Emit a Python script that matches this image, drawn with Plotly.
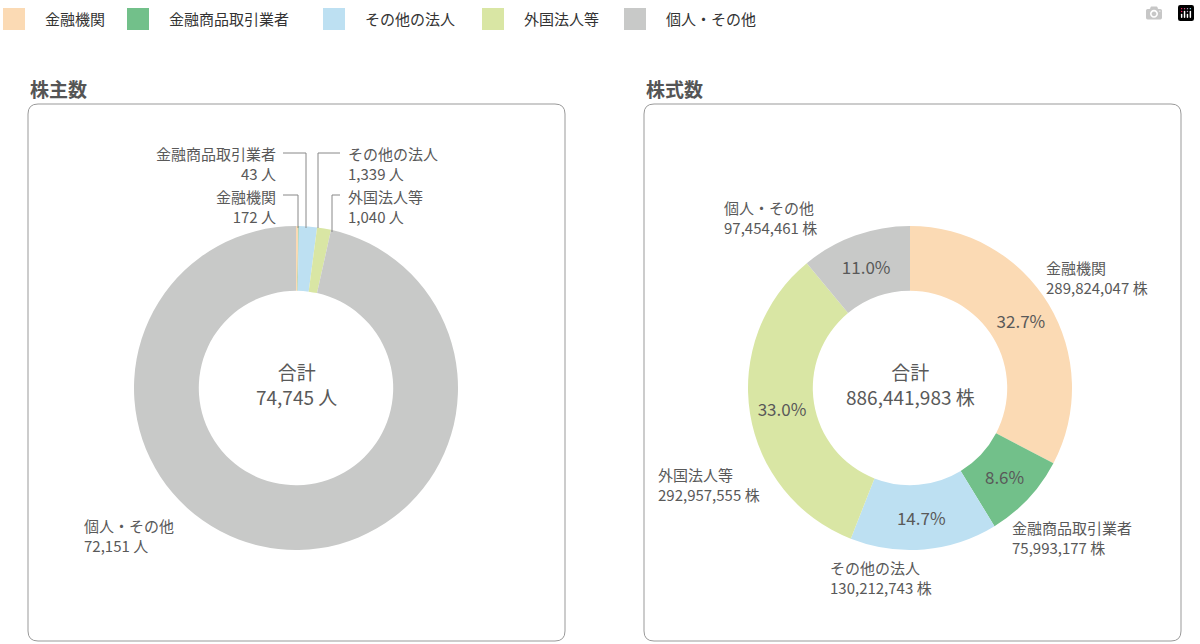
import plotly.graph_objects as go

labels = ["金融機関", "金融商品取引業者", "その他の法人", "外国法人等", "個人・その他"]
holders = [172, 43, 1339, 1040, 72151]
shares = [289824047, 75993177, 130212743, 292957555, 97454461]
colors = ["#FBDAB4", "#72C08A", "#BDE0F2", "#D9E6A4", "#C8C9C8"]
TXT = "#595959"
FONT = "Noto Sans CJK JP"
W, H = 1200, 644

def px(x): return x / W
def py(y): return 1 - y / H

fig = go.Figure()
fig.add_trace(go.Pie(labels=labels, values=holders, marker=dict(colors=colors),
                     hole=0.6, sort=False, direction="clockwise", rotation=0,
                     textinfo="none", hoverinfo="label+value", showlegend=False,
                     domain=dict(x=[px(134), px(458)], y=[py(550), py(226)])))
fig.add_trace(go.Pie(labels=labels, values=shares, marker=dict(colors=colors),
                     hole=0.6, sort=False, direction="clockwise", rotation=0,
                     texttemplate="%{percent:.1%}", textposition="inside",
                     insidetextorientation="horizontal",
                     textfont=dict(size=17, color=TXT, family=FONT),
                     showlegend=False,
                     domain=dict(x=[px(748), px(1072)], y=[py(550), py(226)])))

def rr(x0, y0, x1, y1, r=10):
    X0, X1 = px(x0), px(x1); Y0, Y1 = py(y1), py(y0)
    rx, ry = r / W, r / H
    return (f"M {X0+rx},{Y0} L {X1-rx},{Y0} Q {X1},{Y0} {X1},{Y0+ry} "
            f"L {X1},{Y1-ry} Q {X1},{Y1} {X1-rx},{Y1} L {X0+rx},{Y1} "
            f"Q {X0},{Y1} {X0},{Y1-ry} L {X0},{Y0+ry} Q {X0},{Y0} {X0+rx},{Y0} Z")

shapes = [dict(type="path", xref="paper", yref="paper", path=rr(28, 104, 565, 641),
               line=dict(color="#999999", width=1)),
          dict(type="path", xref="paper", yref="paper", path=rr(644, 104, 1181, 641),
               line=dict(color="#999999", width=1))]
lines = [[(283, 153), (306, 153), (306, 228)],
         [(283, 195), (298, 195), (298, 228)],
         [(340, 153), (318, 153), (318, 228)],
         [(340, 195), (332, 195), (332, 232)]]
for pts in lines:
    for (a, b), (c, d) in zip(pts[:-1], pts[1:]):
        shapes.append(dict(type="line", xref="paper", yref="paper",
                           x0=px(a), y0=py(b), x1=px(c), y1=py(d),
                           line=dict(color="#888888", width=1)))

ann = []
def t(x, y, text, anchor="left", size=15, color=TXT):
    ann.append(dict(x=px(x), y=py(y), xref="paper", yref="paper", text=text,
                    showarrow=False, xanchor=anchor, yanchor="middle", align=anchor,
                    font=dict(size=size, color=color, family=FONT)))

# manual legend
leg_x = [3, 127, 323, 482, 624]
for lx, lab, col in zip(leg_x, labels, colors):
    shapes.append(dict(type="rect", xref="paper", yref="paper",
                       x0=px(lx), x1=px(lx + 22), y0=py(30), y1=py(8),
                       fillcolor=col, line=dict(width=0)))
    t(lx + 40, 19, lab, color="#333333")

t(28, 88, "<b>株主数</b>", size=19, color="#555555")
t(644, 88, "<b>株式数</b>", size=19, color="#555555")
t(296, 384, "合計<br>74,745 人", anchor="center", size=19)
t(910, 384, "合計<br>886,441,983 株", anchor="center", size=19)
t(278, 164, "金融商品取引業者<br>43 人", anchor="right")
t(278, 206, "金融機関<br>172 人", anchor="right")
t(346, 164, "その他の法人<br>1,339 人")
t(346, 206, "外国法人等<br>1,040 人")
t(82, 535, "個人・その他<br>72,151 人")
t(722, 218, "個人・その他<br>97,454,461 株")
t(1044, 277, "金融機関<br>289,824,047 株")
t(1010, 537, "金融商品取引業者<br>75,993,177 株")
t(828, 577, "その他の法人<br>130,212,743 株")
t(656, 485, "外国法人等<br>292,957,555 株")

fig.update_layout(width=W, height=H, margin=dict(l=0, r=0, t=0, b=0),
                  paper_bgcolor="white", plot_bgcolor="white",
                  shapes=shapes, annotations=ann, showlegend=False,
                  font=dict(family=FONT, color=TXT))
fig.write_html("out.html",
               post_script="document.body.style.margin='0';document.body.style.overflow='hidden';")
